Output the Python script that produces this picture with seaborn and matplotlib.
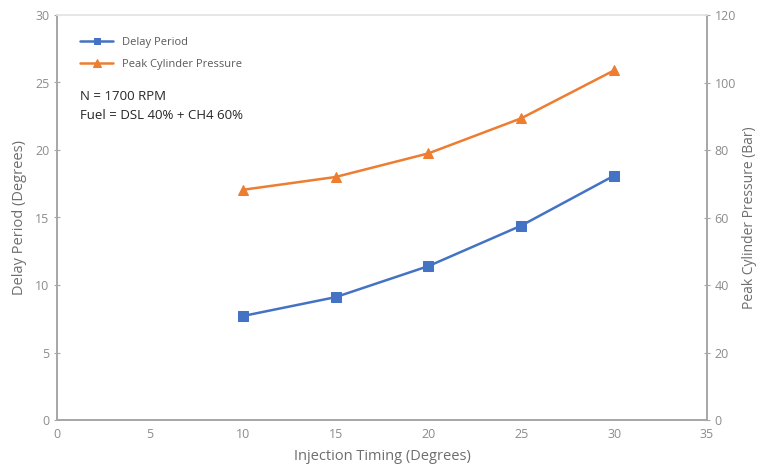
import pandas as pd
import matplotlib.pyplot as plt
import seaborn as sns

# Data
injection_timing = [10, 15, 20, 25, 30]
delay_period = [7.7, 9.1, 11.4, 14.4, 18.1]
peak_pressure = [68.2, 72.0, 79.0, 89.4, 103.6]

df = pd.DataFrame({"Timing": injection_timing,
                   "Delay": delay_period,
                   "Pressure": peak_pressure})

sns.set_style("white")
plt.rcParams['font.family'] = ['Open Sans', 'DejaVu Sans']

blue = "#4472C4"
orange = "#ED7D31"
axis_col = "#A6A6A6"
tick_col = "#8C8C8C"
label_col = "#6E6E6E"

fig = plt.figure(figsize=(7.57, 4.69), dpi=100)
ax = fig.add_axes([57 / 757, 1 - 420 / 469, 650 / 757, 405 / 469])
ax2 = ax.twinx()

sns.lineplot(data=df, x="Timing", y="Delay", ax=ax, color=blue, marker="s",
             markersize=6.5, markeredgecolor=blue, linewidth=1.8, label="Delay Period")
sns.lineplot(data=df, x="Timing", y="Pressure", ax=ax2, color=orange, marker="^",
             markersize=7.5, markeredgecolor=orange, linewidth=1.8,
             label="Peak Cylinder Pressure")

ax.set_xlim(0, 35)
ax.set_ylim(0, 30)
ax2.set_ylim(0, 120)
ax.set_xticks(range(0, 36, 5))
ax.set_yticks(range(0, 31, 5))
ax2.set_yticks(range(0, 121, 20))

for a in (ax, ax2):
    for side, sp in a.spines.items():
        sp.set_color(axis_col)
        sp.set_linewidth(1.2)
    a.spines["top"].set_color("#E6E6E6")
    a.tick_params(colors=axis_col, labelcolor=tick_col, labelsize=9,
                  length=4, direction="inout")

ax.set_xlabel("Injection Timing (Degrees)", color=label_col, fontsize=10.5, labelpad=6)
ax.set_ylabel("Delay Period (Degrees)", color=label_col, fontsize=10.5, labelpad=6)
ax2.set_ylabel("Peak Cylinder Pressure (Bar)", color=label_col, fontsize=10, labelpad=4)

h1, l1 = ax.get_legend_handles_labels()
h2, l2 = ax2.get_legend_handles_labels()
ax2.get_legend().remove()
leg = ax.legend(h1 + h2, l1 + l2, loc="upper left", bbox_to_anchor=(0.02, 0.97),
                frameon=False, fontsize=8, handlelength=3, labelspacing=1.0,
                labelcolor="#595959", markerscale=0.7)

ax.text(0.035, 0.815, "N = 1700 RPM\nFuel = DSL 40% + CH4 60%", transform=ax.transAxes,
        fontsize=9.5, color="#262626", va="top", linespacing=1.6)

plt.savefig("out.png", dpi=100)
